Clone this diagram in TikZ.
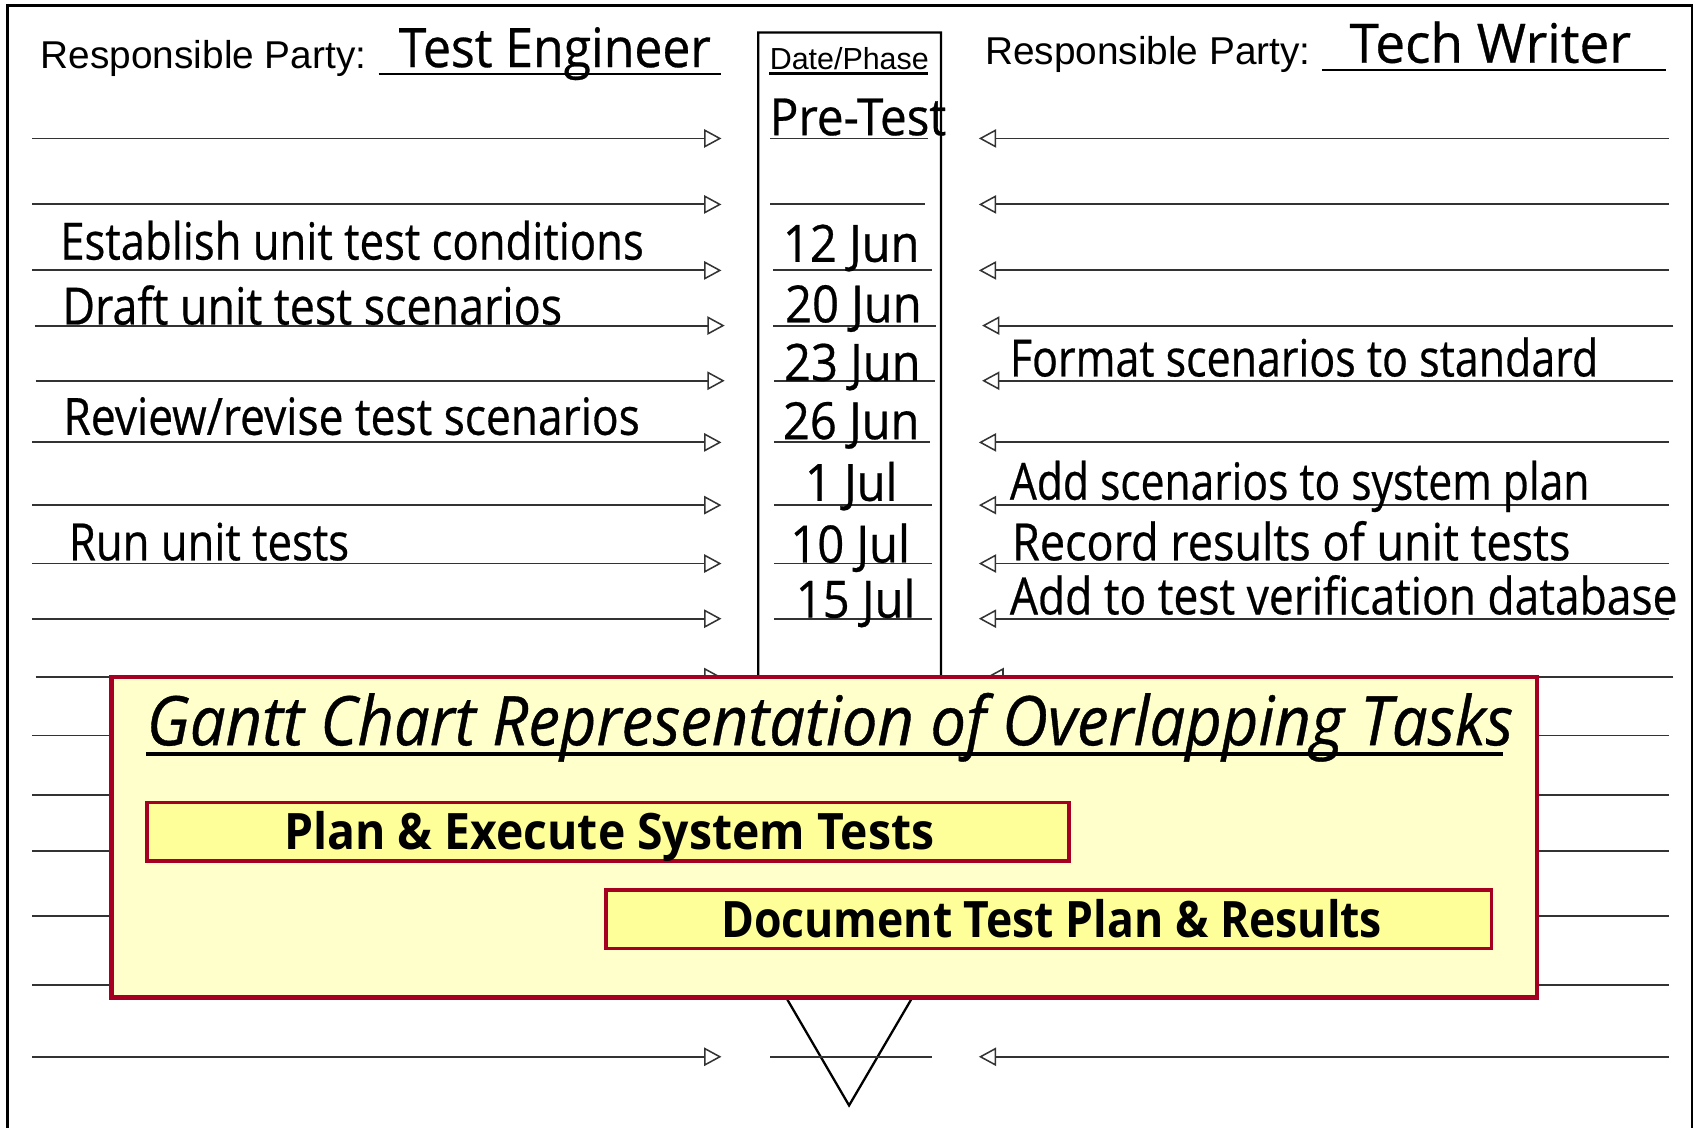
\documentclass[tikz,border=0pt]{standalone}
\usepackage{fontspec}
\setmainfont{Liberation Sans}
\newfontfamily\hand[FakeStretch=0.85,UprightFeatures={FakeBold=0.5},ItalicFeatures={FakeBold=0.5}]{Open Sans}
\usetikzlibrary{arrows.meta}
\definecolor{gborder}{HTML}{A50021}
\definecolor{gfill}{HTML}{FFFFCC}
\definecolor{bfill}{HTML}{FFFF99}
\newcommand{\sx}[2]{\scalebox{#1}[1]{#2}}
\tikzset{
  arr/.style={draw=black!80, line width=0.5pt, -{Triangle[open,length=0.16cm,width=0.17cm,line width=0.4pt]}},
  plain/.style={draw=black!80, line width=0.5pt},
  task/.style={inner sep=0pt, anchor=base west, font=\hand\fontsize{13.5}{16}\selectfont},
  datet/.style={inner sep=0pt, anchor=base, font=\hand\fontsize{13.5}{16}\selectfont},
  party/.style={inner sep=0pt, anchor=base west, font=\fontsize{10.2}{12}\selectfont},
  who/.style={inner sep=0pt, anchor=base west, font=\hand\fontsize{14.3}{17}\selectfont},
  bar/.style={draw=gborder, line width=1pt, fill=bfill},
  bartext/.style={inner sep=0pt, anchor=base west, font=\hand\bfseries\fontsize{13.2}{16}\selectfont}
}
\begin{document}
\begin{tikzpicture}[x=0.01cm,y=-0.01cm]
\useasboundingbox (0,0) rectangle (1568,1042);
\fill[white] (0,0) rectangle (1568,1042);
% outer frame
\draw[line width=0.6pt] (7,1045) -- (7,5) -- (1564,5) -- (1564,1045);
% middle column (arrow shape)
\draw[line width=0.6pt, fill=white] (701,30) -- (870,30) -- (870,877) -- (785,1022) -- (701,878) -- cycle;
% left arrows
\foreach \y/\a/\b [count=\i] in {128/30/667,189/30/667,250/30/667,301/32/670,352/33/670,409/30/667,467/30/667,521/30/667,572/30/667,626/33/667,680/30/667,735/30/667,787/30/667,847/30/667,911/30/667,977/30/667}{
  \coordinate (ls\i) at (\a,\y);
  \coordinate (le\i) at (\b,\y);
  \draw[arr] (ls\i) -- (le\i);
}
% right arrows
\foreach \y/\a/\b [count=\i] in {128/1543/905,189/1543/905,250/1543/905,301/1547/908,352/1547/908,409/1543/905,467/1543/905,521/1543/905,572/1543/905,626/1547/912,680/1543/905,735/1543/905,787/1543/905,847/1543/905,911/1543/905,977/1543/905}{
  \coordinate (rs\i) at (\a,\y);
  \coordinate (re\i) at (\b,\y);
  \draw[arr] (rs\i) -- (re\i);
}
% middle lines
\foreach \y/\a/\b [count=\i] in {128/712/858,189/712/855,250/715/862,301/715/865,352/716/864,409/716/860,467/716/862,521/716/862,572/716/862,977/712/862}{
  \coordinate (ms\i) at (\a,\y);
  \coordinate (me\i) at (\b,\y);
  \draw[plain] (ms\i) -- (me\i);
}
% headers
\node[party] (rpl) at (37,63) {Responsible Party:};
\draw[line width=0.5pt] (350,68) -- (667,68);
\node[who] (wl) at (368,62) {\sx{1.08}{Test Engineer}};
\node[party] (rpr) at (910,60) {Responsible Party:};
\draw[line width=0.5pt] (1222,65) -- (1540,65);
\node[who] (wr) at (1247,58) {\sx{1.15}{Tech Writer}};
\node[inner sep=0pt, anchor=base west, font=\fontsize{8}{10}\selectfont] (dp) at (711,64) {Date/Phase};
\draw[line width=0.9pt] (711,68) -- (858,68);
% dates
\node[task] (pre) at (711,125) {\sx{1.09}{Pre-Test}};
\node[datet] (d1) at (787,242) {\sx{1.08}{12 Jun}};
\node[datet] (d2) at (789,298) {\sx{1.08}{20 Jun}};
\node[datet] (d3) at (788,352) {\sx{1.08}{23 Jun}};
\node[datet] (d4) at (787,406) {\sx{1.08}{26 Jun}};
\node[datet] (d5) at (787,463) {\sx{1.08}{1 Jul}};
\node[datet] (d6) at (786,520) {\sx{1.08}{10 Jul}};
\node[datet] (d7) at (791,571) {\sx{1.08}{15 Jul}};
% tasks left
\node[task] (t1) at (55,240) {Establish unit test conditions};
\node[task] (t2) at (57,300) {\sx{1.027}{Draft unit test scenarios}};
\node[task] (t3) at (58,402) {\sx{1.015}{Review/revise test scenarios}};
\node[task] (t4) at (63,518) {Run unit tests};
% tasks right
\node[task] (r1) at (933,348) {\sx{0.984}{Format scenarios to standard}};
\node[task] (r2) at (933,462) {\sx{0.975}{Add scenarios to system plan}};
\node[task] (r3) at (935,518) {\sx{1.03}{Record results of unit tests}};
\node[task] (r4) at (933,568) {\sx{1.016}{Add to test verification database}};
% gantt box
\draw[draw=gborder, line width=1.2pt, fill=gfill] (103,626) rectangle (1421,922);
\node[inner sep=0pt, anchor=base west, font=\hand\itshape\fontsize{18}{22}\selectfont] (gt) at (135,689) {\sx{1.088}{Gantt Chart Representation of Overlapping Tasks}};
\draw[line width=0.9pt] (135,697) -- (1390,697);
\draw[bar] (136,742) rectangle (988,796);
\node[bartext] (b1) at (262,785) {\sx{1.085}{Plan \& Execute System Tests}};
\draw[bar] (560,823) rectangle (1379,877);
\node[bartext] (b2) at (666,867) {\sx{1.043}{Document Test Plan \& Results}};
\end{tikzpicture}
\end{document}
